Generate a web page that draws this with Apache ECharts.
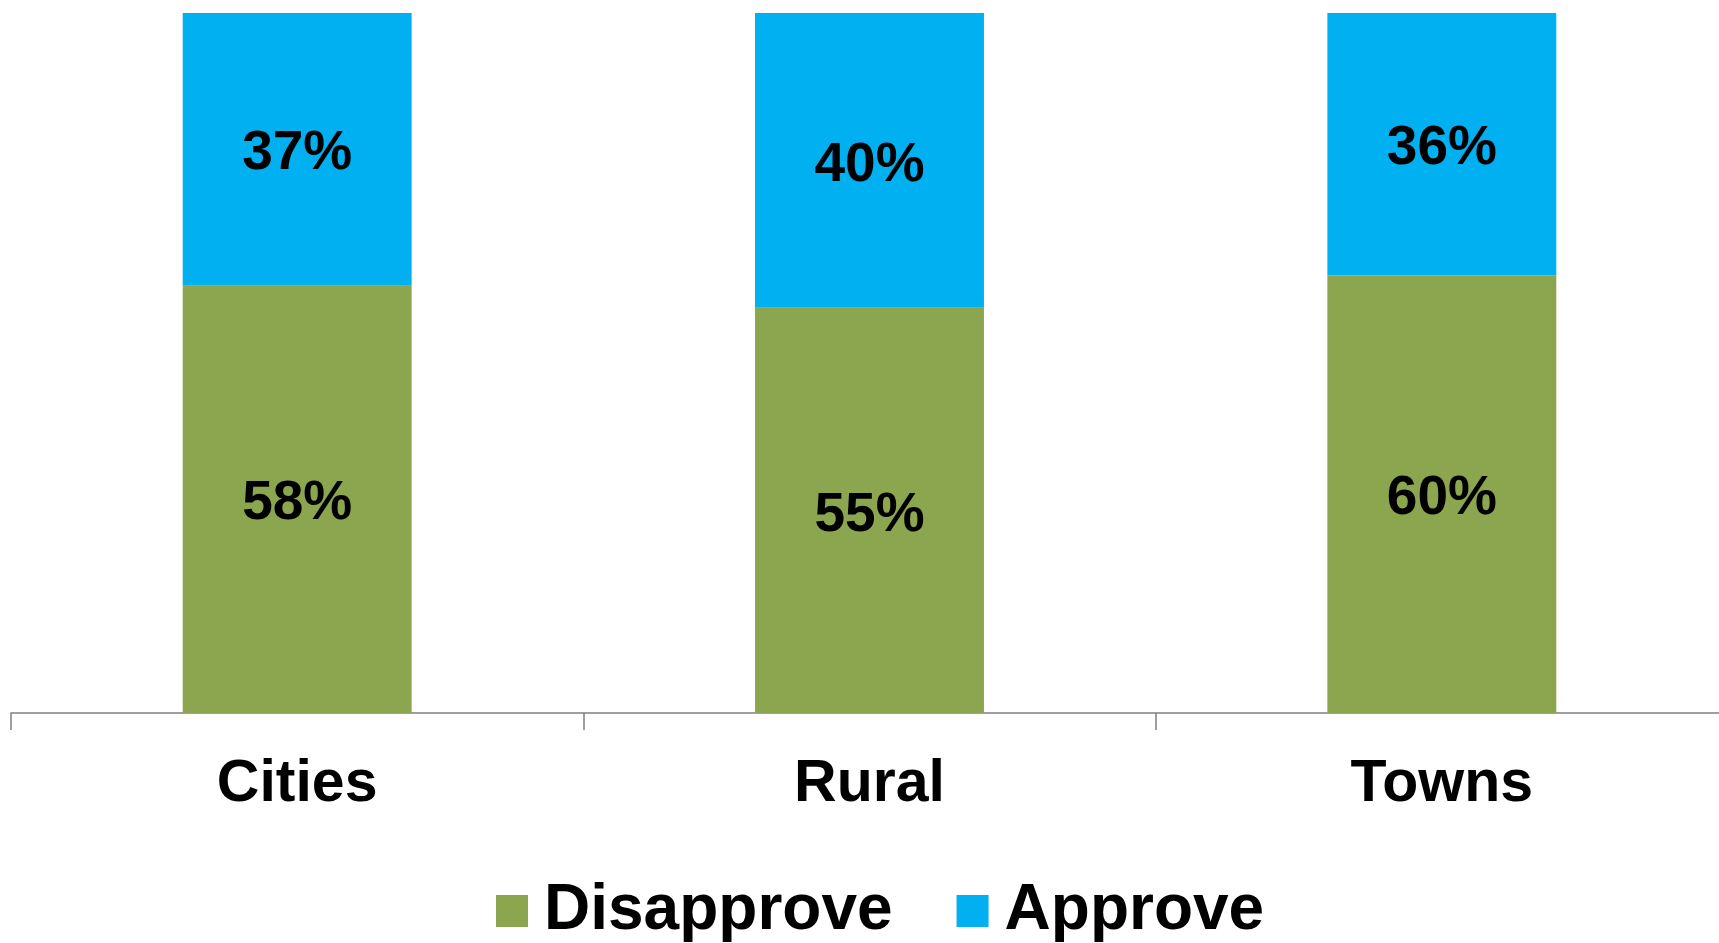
<!DOCTYPE html>
<html>
<head>
<meta charset="utf-8">
<script src="https://cdn.jsdelivr.net/npm/echarts@6/dist/echarts.min.js"></script>
<style>
html,body{margin:0;padding:0;background:#fff;}
#chart{width:1719px;height:943px;}
</style>
</head>
<body>
<div id="chart"></div>
<script>
const categories = ['Cities', 'Rural', 'Towns'];
const disapprove = [58, 55, 60];
const approve = [37, 40, 36];
const seriesNames = ['Disapprove', 'Approve'];

// 100% stacked: each bar is scaled to the total of its two answers
const totals = categories.map((c, i) => disapprove[i] + approve[i]);
const disShare = disapprove.map((v, i) => v / totals[i]);
const appShare = approve.map((v, i) => v / totals[i]);

const FONT = '"Liberation Sans", Arial, sans-serif';
const chart = echarts.init(document.getElementById('chart'));

function labelFor(raw) {
  return {
    show: true,
    position: 'inside',
    offset: [0, 5],
    formatter: p => raw[p.dataIndex] + '%',
    color: '#000',
    fontFamily: FONT,
    fontWeight: 'bold',
    fontSize: 55
  };
}

chart.setOption({
  animation: false,
  backgroundColor: '#fff',
  grid: { left: 11, right: -9, top: 13, bottom: 230, outerBoundsMode: 'none', containLabel: false },
  legend: {
    data: seriesNames,
    left: 491,
    top: 874,
    icon: 'rect',
    itemWidth: 32,
    itemHeight: 32,
    itemGap: 64,
    textStyle: { color: '#000', fontFamily: FONT, fontWeight: 'bold', fontSize: 64, padding: [0, 0, 0, 11] }
  },
  xAxis: {
    type: 'category',
    data: categories,
    axisLine: { lineStyle: { color: '#808080', width: 1.5 } },
    axisTick: { show: true, length: 17, lineStyle: { color: '#808080', width: 1.5 } },
    axisLabel: { color: '#000', fontFamily: FONT, fontWeight: 'bold', fontSize: 59, margin: 42 }
  },
  yAxis: {
    type: 'value',
    min: 0,
    max: 1,
    show: false,
    splitLine: { show: false }
  },
  series: [
    {
      name: seriesNames[0],
      type: 'bar',
      stack: 'total',
      barWidth: '40%',
      data: disShare,
      itemStyle: { color: '#8BA64F' },
      label: labelFor(disapprove)
    },
    {
      name: seriesNames[1],
      type: 'bar',
      stack: 'total',
      barWidth: '40%',
      data: appShare,
      itemStyle: { color: '#00B0F0' },
      label: labelFor(approve)
    }
  ]
});
</script>
</body>
</html>
